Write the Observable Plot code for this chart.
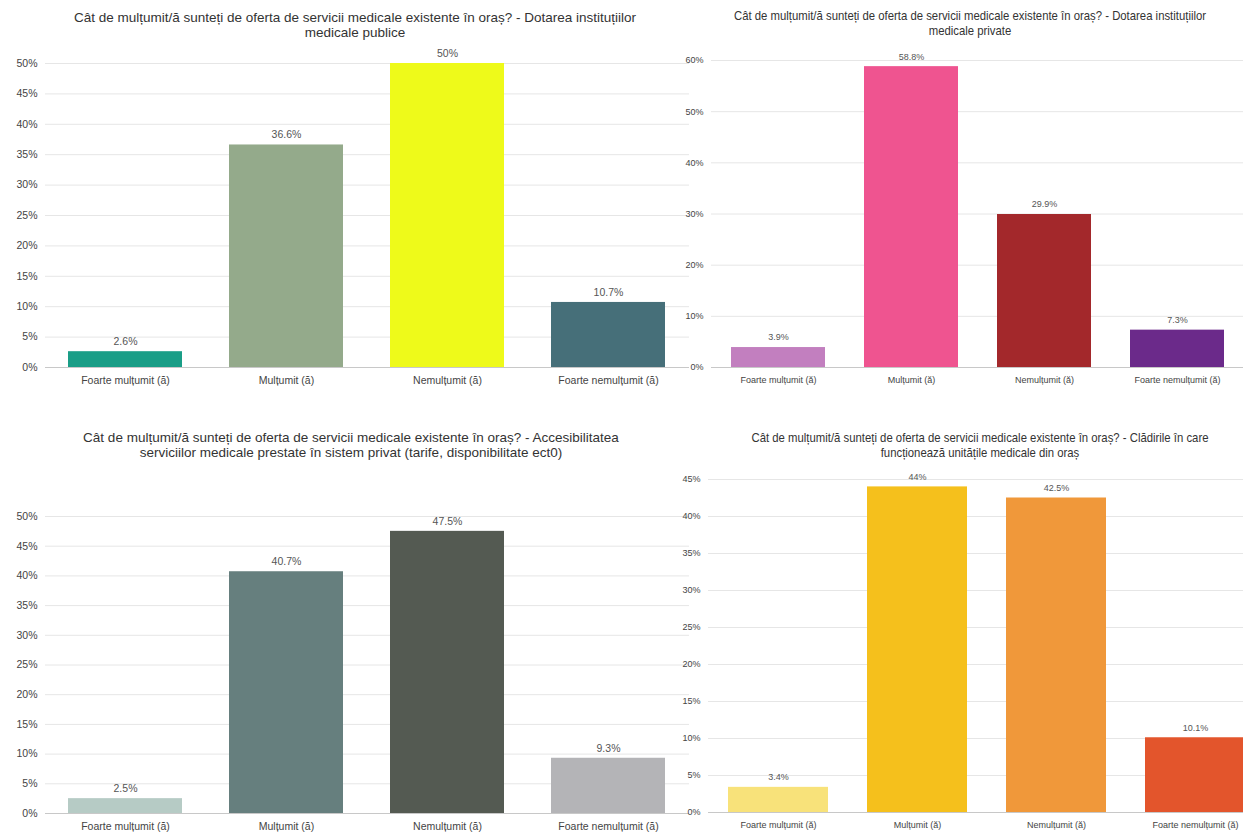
<!DOCTYPE html>
<html><head><meta charset="utf-8">
<script src="https://cdn.jsdelivr.net/npm/d3@7"></script>
<script src="https://cdn.jsdelivr.net/npm/@observablehq/plot@0.6"></script>
<style>
html,body{margin:0;padding:0;background:#fff;}
body{width:1243px;height:832px;overflow:hidden;position:relative;font-family:"Liberation Sans",Arial,sans-serif;}
.panel{position:absolute;}
.title{position:absolute;text-align:center;color:#333;font-size:13.5px;line-height:15px;white-space:nowrap;}
.narrow{transform:scaleX(0.84);transform-origin:center;}
svg{overflow:visible;}
</style>
</head><body>
<script>
const categories = ["Foarte mulțumit (ă)", "Mulțumit (ă)", "Nemulțumit (ă)", "Foarte nemulțumit (ă)"];

const titlePublic = ["Cât de mulțumit/ă sunteți de oferta de servicii medicale existente în oraș? - Dotarea instituțiilor", "medicale publice"];
const titlePrivate = ["Cât de mulțumit/ă sunteți de oferta de servicii medicale existente în oraș? - Dotarea instituțiilor", "medicale private"];
const titleAccess = ["Cât de mulțumit/ă sunteți de oferta de servicii medicale existente în oraș? - Accesibilitatea", "serviciilor medicale prestate în sistem privat (tarife, disponibilitate ect0)"];
const titleBuildings = ["Cât de mulțumit/ă sunteți de oferta de servicii medicale existente în oraș? - Clădirile în care", "funcționează unitățile medicale din oraș"];

const valuesPublic = [2.6, 36.6, 50, 10.7];
const valuesPrivate = [3.9, 58.8, 29.9, 7.3];
const valuesAccess = [2.5, 40.7, 47.5, 9.3];
const valuesBuildings = [3.4, 44, 42.5, 10.1];

const colorsPublic = ["#1a9e87", "#94aa8b", "#eefa1a", "#466f79"];
const colorsPrivate = ["#c27fbf", "#ef5490", "#a3282b", "#6b2a8a"];
const colorsAccess = ["#b6cbc5", "#667f7e", "#545a52", "#b4b4b7"];
const colorsBuildings = ["#f8e27a", "#f5c01c", "#f0983a", "#e3552c"];

const ticksPublic = [0,5,10,15,20,25,30,35,40,45,50];
const ticksPrivate = [0,10,20,30,40,50,60];
const ticksAccess = [0,5,10,15,20,25,30,35,40,45,50];
const ticksBuildings = [0,5,10,15,20,25,30,35,40,45];

function panel(cfg) {
  const data = categories.map((c, i) => ({cat: c, v: cfg.values[i], color: cfg.colors[i]}));
  const chart = Plot.plot({
    width: cfg.width, height: cfg.height,
    marginLeft: cfg.ml, marginRight: cfg.mr, marginTop: cfg.mt, marginBottom: cfg.mb,
    style: {fontFamily: '"Liberation Sans", Arial, sans-serif', fontSize: cfg.fs + "px", color: "#444", background: "transparent"},
    x: {domain: categories, paddingInner: cfg.pad, paddingOuter: cfg.pad / 2, label: null, tickSize: 0, tickPadding: 9},
    y: {domain: cfg.domain, ticks: cfg.ticks, tickFormat: d => d + "%", label: null, tickSize: 0, tickPadding: 8, grid: false},
    marks: [
      Plot.gridY(cfg.ticks, {stroke: "#e6e6e6", strokeOpacity: 1}),
      Plot.barY(data, {x: "cat", y: "v", fill: d => d.color}),
      Plot.ruleY([0], {stroke: "#c8c8c8"}),
      Plot.text(data, {x: "cat", y: "v", text: d => d.v + "%", dy: -10, fill: "#555", fontSize: cfg.fs})
    ]
  });
  chart.classList.add("panel");
  chart.style.left = cfg.left + "px";
  chart.style.top = cfg.top + "px";
  document.body.appendChild(chart);
  const t = document.createElement("div");
  t.className = "title" + (cfg.narrow ? " narrow" : "");
  t.style.left = (cfg.tcx - 400) + "px";
  t.style.width = "800px";
  t.style.top = cfg.ttop + "px";
  t.innerHTML = cfg.title.join("<br>");
  document.body.appendChild(t);
}

panel({values: valuesPublic, colors: colorsPublic, title: titlePublic, domain: [0, 50], ticks: ticksPublic,
  left: 0, top: 50, width: 700, height: 345, ml: 45, mr: 11, mt: 13, mb: 28, pad: 0.29, fs: 10.5,
  tcx: 355, ttop: 10, narrow: false});
panel({values: valuesPrivate, colors: colorsPrivate, title: titlePrivate, domain: [0, 60], ticks: ticksPrivate,
  left: 640, top: 40, width: 605, height: 355, ml: 71, mr: 0, mt: 20, mb: 28, pad: 0.29, fs: 9,
  tcx: 970, ttop: 8, narrow: true});
panel({values: valuesAccess, colors: colorsAccess, title: titleAccess, domain: [0, 50], ticks: ticksAccess,
  left: 0, top: 490, width: 700, height: 342, ml: 45, mr: 11, mt: 26, mb: 19, pad: 0.29, fs: 10.5,
  tcx: 351, ttop: 430, narrow: false});
panel({values: valuesBuildings, colors: colorsBuildings, title: titleBuildings, domain: [0, 45], ticks: ticksBuildings,
  left: 640, top: 460, width: 625, height: 372, ml: 68, mr: 0, mt: 19, mb: 20, pad: 0.28, fs: 9,
  tcx: 980, ttop: 430, narrow: true});
</script>
</body></html>
